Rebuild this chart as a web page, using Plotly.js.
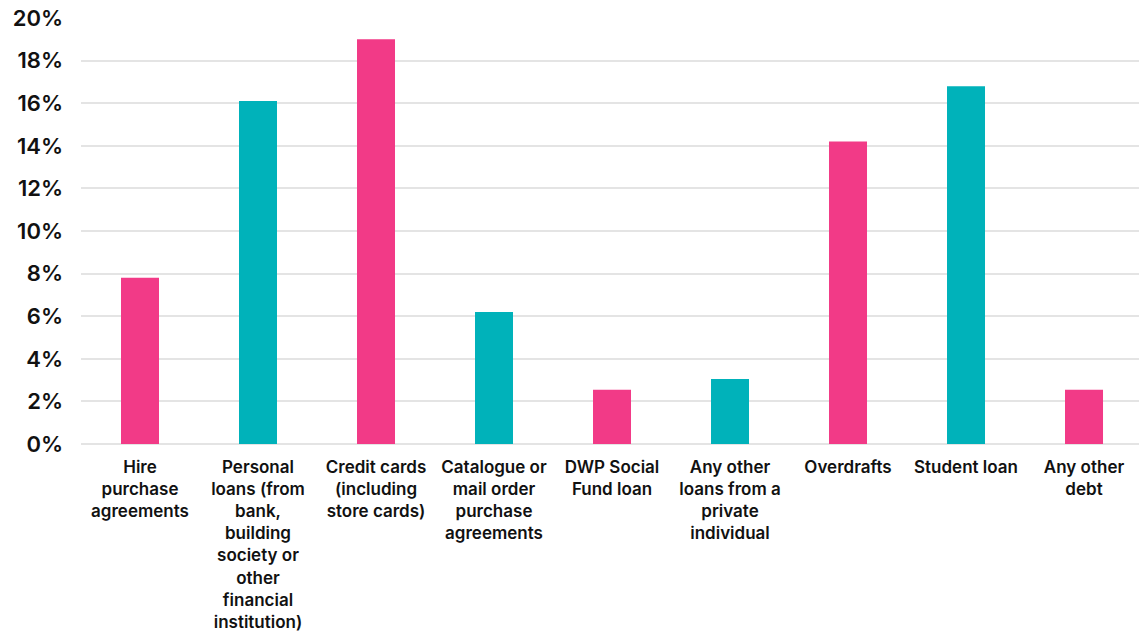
<!DOCTYPE html>
<html>
<head>
<meta charset="utf-8">
<script src="https://cdn.plot.ly/plotly-3.0.1.min.js"></script>
<style>html,body{margin:0;padding:0;background:#fff;}#chart{width:1139px;height:632px;}</style>
</head>
<body>
<div id="chart"></div>
<script>
const categories = [
  "Hire<br>purchase<br>agreements",
  "Personal<br>loans (from<br>bank,<br>building<br>society or<br>other<br>financial<br>institution)",
  "Credit cards<br>(including<br>store cards)",
  "Catalogue or<br>mail order<br>purchase<br>agreements",
  "DWP Social<br>Fund loan",
  "Any other<br>loans from a<br>private<br>individual",
  "Overdrafts",
  "Student loan",
  "Any other<br>debt"
];
const values = [7.8, 16.1, 19.0, 6.2, 2.55, 3.05, 14.2, 16.8, 2.55];
const barColors = ["#F23A87", "#00B2BA", "#F23A87", "#00B2BA", "#F23A87", "#00B2BA", "#F23A87", "#00B2BA", "#F23A87"];
const yTickVals = [0, 2, 4, 6, 8, 10, 12, 14, 16, 18, 20];
const yTickText = ["0%", "2%", "4%", "6%", "8%", "10%", "12%", "14%", "16%", "18%", "20%"];

const trace = {
  type: "bar",
  x: categories,
  y: values,
  marker: {color: barColors},
  hoverinfo: "skip"
};

const layout = {
  width: 1139,
  height: 632,
  margin: {l: 81, r: 0, t: 18, b: 188},
  paper_bgcolor: "#ffffff",
  plot_bgcolor: "#ffffff",
  bargap: 0.678,
  showlegend: false,
  font: {family: "Inter, 'Noto Sans', sans-serif", color: "#111111", weight: 600},
  xaxis: {
    type: "category",
    range: [-0.5, 8.466],
    tickfont: {size: 17, color: "#111111", weight: 600},
    tickangle: 0,
    showgrid: false,
    showline: false,
    ticks: "",
    zeroline: false,
    ticklabelstandoff: 11,
    automargin: false
  },
  yaxis: {
    range: [0, 20],
    tickvals: yTickVals,
    ticktext: yTickText,
    tickfont: {size: 22, color: "#111111", weight: 600},
    showgrid: true,
    gridcolor: "#e4e4e4",
    gridwidth: 2,
    zeroline: true,
    zerolinecolor: "#e4e4e4",
    zerolinewidth: 2,
    showline: false,
    ticks: "",
    ticklabelstandoff: 17,
    automargin: false
  }
};

Plotly.newPlot("chart", [trace], layout, {displayModeBar: false, staticPlot: true});
</script>
</body>
</html>
